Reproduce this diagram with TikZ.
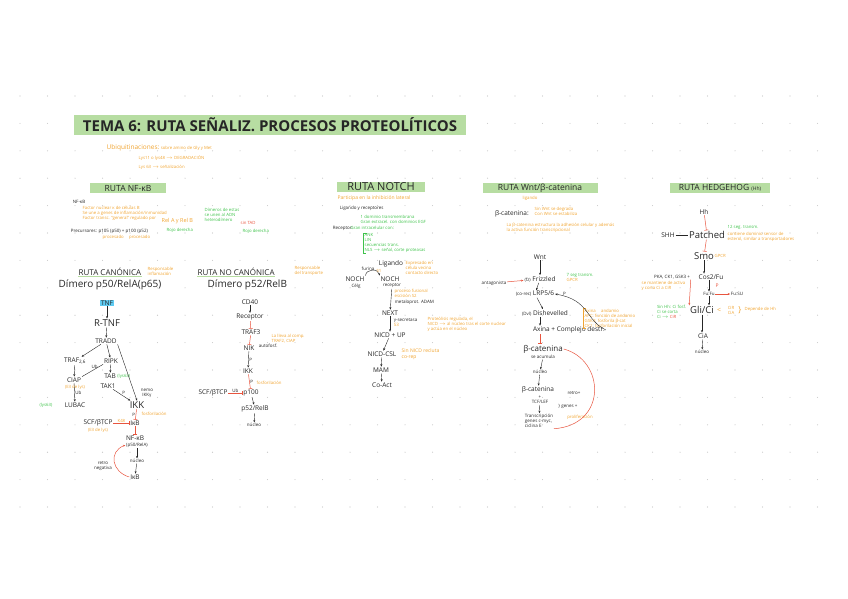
\documentclass[tikz,border=0pt]{standalone}
\usepackage{fontspec}
\setmainfont{Open Sans}
\usetikzlibrary{arrows.meta, positioning, calc}
\definecolor{hlgreen}{HTML}{B7DDA2}
\definecolor{orangenote}{HTML}{F0A431}
\definecolor{greennote}{HTML}{3EC24A}
\definecolor{inkred}{HTML}{E8553F}
\definecolor{hlcyan}{HTML}{5FCBF2}
\definecolor{dotgray}{HTML}{C4C4C4}
\definecolor{ink}{HTML}{262626}
\tikzset{
  title/.style={
    fill=hlgreen, minimum width=392, minimum height=19,
    font=\fontsize{15}{16}\selectfont\bfseries, text=ink,
  },
  heading/.style={
    fill=hlgreen, minimum height=10, inner sep=1pt,
    font=\fontsize{8.5}{9}\selectfont, text=ink,
  },
  subhead/.style={font=\fontsize{8}{9}\selectfont, text=ink, inner sep=0.5pt},
  dimero/.style={font=\fontsize{10}{11}\selectfont, text=ink, inner sep=0.5pt},
  lbl/.style={font=\fontsize{6.5}{7.5}\selectfont, text=ink, inner sep=0.8pt},
  lblbig/.style={font=\fontsize{9.5}{10}\selectfont, text=ink, inner sep=0.8pt},
  lblsm/.style={font=\fontsize{4.5}{5.2}\selectfont, text=ink, inner sep=0.6pt, align=left},
  note/.style={font=\fontsize{4.3}{5}\selectfont, text=orangenote, inner sep=0.5pt, align=left},
  gnote/.style={note, text=greennote},
  rnote/.style={note, text=inkred},
  arr/.style={-{Stealth[length=2.5pt, width=2pt]}, draw=ink, line width=0.4pt},
  plain/.style={draw=ink, line width=0.4pt},
  inh/.style={-{Bar[width=4pt]}, draw=inkred, line width=0.5pt},
  rarr/.style={-{Stealth[length=2.5pt, width=2pt]}, draw=inkred, line width=0.5pt},
  rline/.style={draw=inkred, line width=0.5pt},
}
\begin{document}
\begin{tikzpicture}[x=1pt, y=-1pt]
\useasboundingbox (0,0) rectangle (848,599);

% puntos de la libreta
\foreach \i in {0,...,29}
  \foreach \j in {0,...,15}
    \fill[dotgray] (20+27.5*\i, 96+27.4*\j) circle (0.55);

% titulo
\node[title] (tema) at (270,125) {TEMA 6: RUTA SEÑALIZ. PROCESOS PROTEOLÍTICOS};
\node[note, anchor=west] (ubiq) at (106,148) {{\fontsize{6.5}{7}\selectfont Ubiquitinaciones:} sobre amino de Gly y Met};
\node[note, anchor=west] (lysdeg) at (138,158) {Lys11 o lys48 $\rightarrow$ DEGRADACIÓN};
\node[note, anchor=west] (lyssig) at (138,167) {Lys 63 $\rightarrow$ señalización};

% ---------------- RUTA NF-kB ----------------
\node[heading, minimum width=76] (hnfkb) at (128,188) {RUTA NF-κB};
\node[lblsm, anchor=west] (nfkbdef) at (72,202) {NF-κB};
\node[note, anchor=north west] (nfkbnotes) at (82,206) {Factor nuclear κ de células B\\Se une a genes de inflamación/inmunidad\\Factor transc. ``general'' regulado por};
\node[note, anchor=west, font=\fontsize{5.5}{6}\selectfont] (relab) at (161,221) {Rel A y Rel B};
\node[gnote, anchor=north west] (dimer) at (204,208) {Dímeros de estas\\se unen al ADN\\heterodímero};
\node[rnote, anchor=west] (sintad) at (240,223) {sin TAD};
\node[lblsm, anchor=west] (precur) at (70,231) {Precursores: p105 (p50) + p100 (p52)};
\node[note, anchor=west] (precurnote) at (102,237) {procesado \quad procesado};
\node[gnote, anchor=west] (rojoa) at (166,230) {Rojo derecha};
\node[gnote, anchor=west] (rojob) at (242,231) {Rojo derecha};

% canonica
\node[subhead, anchor=west] (canon) at (78,272) {RUTA CANÓNICA};
\draw[hlgreen, line width=1.2pt] (canon.south west) -- (canon.south east);
\node[note, anchor=west] (canonnote) at (147,271) {Responsable\\inflamación};
\node[dimero, anchor=west] (dimcan) at (58,285) {Dímero p50/RelA(p65)};

\node[lbl, fill=hlcyan] (tnf) at (107,303) {TNF};
\node[lblbig] (rtnf) at (107,323) {R-TNF};
\node[lbl] (tradd) at (106,341) {TRADD};
\node[lbl] (traf) at (75,361) {TRAF\textsubscript{2,6}};
\node[lbl] (ripk) at (111,361) {RIPK};
\node[lbl] (ciap) at (74,380) {CIAP};
\node[note] (ciapnote) at (75,387) {(E3 de lys)};
\node[lbl] (tab) at (110,376) {TAB};
\node[gnote, anchor=west] (tabnote) at (tab.east) {(lys63)};
\node[lbl] (tak) at (108,386) {TAK1};
\node[lblsm, align=center] (nemo) at (147,393) {nemo\\IKKγ};
\node[lblbig] (ikk) at (137,405) {IKK};
\node[lbl] (lubac) at (75,405) {LUBAC};
\node[gnote] (lubacnote) at (46,405) {(lys63)};
\node[lbl] (ikb) at (135,423) {IκB};
\node[lbl] (scf) at (98,423) {SCF/βTCP};
\node[note] (scfnote) at (98,430) {(E3 de lys)};
\node[note, anchor=west] (ikkfosf) at (141,414) {fosforilación};
\node[lbl] (nfkb) at (135,438) {NF-κB};
\node[lblsm] (nfkbdim) at (137,445) {(p50/RelA)};
\node[lblsm] (nucleoa) at (137,461) {núcleo};
\node[lbl] (ikbb) at (135,477) {IκB};
\node[lblsm, align=center] (retro) at (103,466) {retro\\negativa};

\draw[arr] (tnf) -- (rtnf);
\draw[arr] (rtnf) -- (tradd);
\draw[arr] (tradd) -- (traf);
\draw[arr] (tradd) -- (ripk);
\draw[arr] (tradd.south east) -- (ikk.north);
\draw[arr] (traf) -- (ciap);
\draw[arr] (ripk) -- (tab);
\draw[plain] (ciap.north east) -- node[lblsm, above, pos=0.6] {Ub} (ripk.south west);
\draw[arr] (tak) -- node[lblsm, above right] {P} (ikk);
\draw[arr] (ciap) -- node[lblsm, right] {Ub} (lubac);
\draw[inh] (ikk) -- node[lblsm, left] {P} (ikb);
\draw[inh] (scf) -- node[note, above] {K48} (ikb);
\draw[inh] (ikb) -- (nfkb);
\draw[arr] (nfkbdim) -- (nucleoa);
\draw[arr] (nucleoa) -- (ikbb);
\draw[rarr] (ikbb.west) .. controls (112,472) and (108,452) .. (nfkbdim.west);

% no canonica
\node[subhead, anchor=west] (nocanon) at (197,272) {RUTA NO CANÓNICA};
\draw[hlgreen, line width=1.2pt] (nocanon.south west) -- (nocanon.south east);
\node[note, anchor=west] (nocanonnote) at (294,271) {Responsable\\del transporte};
\node[dimero, anchor=west] (dimnocan) at (207,285) {Dímero p52/RelB};

\node[lbl] (cd40) at (250,302) {CD40};
\node[lbl] (receptor) at (250,317) {Receptor};
\node[lbl] (traf3) at (251,332) {TRAF3};
\node[note, anchor=west] (traf3note) at (271,339) {La lleva al comp.\\TRAF2, CIAP};
\node[lbl] (nik) at (249,348) {NIK};
\node[lblsm, anchor=west] (nikauto) at (258,346) {autofosf.};
\node[lbl] (ikknc) at (248,371) {IKK};
\node[note, anchor=west] (ikkncnote) at (256,383) {fosforilación};
\node[lbl] (p100) at (251,393) {p100};
\node[lbl] (scfnc) at (213,393) {SCF/βTCP};
\node[lbl] (p52) at (255,409) {p52/RelB};
\node[lblsm] (nucleob) at (254,425) {núcleo};

\draw[arr] (cd40) -- (receptor);
\draw[inh] (receptor) -- (traf3);
\draw[inh] (traf3) -- (nik);
\draw[arr] (nik) -- node[lblsm, right] {P} (ikknc);
\draw[inh] (ikknc) -- node[lblsm, right] {P} (p100);
\draw[inh] (scfnc) -- node[lblsm, above] {Ub} (p100);
\draw[arr] (p100) -- (p52);
\draw[arr] (p52) -- (nucleob);

% ---------------- RUTA NOTCH ----------------
\node[heading, minimum width=88, font=\fontsize{11}{12}\selectfont] (hnotch) at (381,187) {RUTA NOTCH};
\node[note, anchor=west, font=\fontsize{5}{6}\selectfont] (notchinh) at (337,198) {Participa en la inhibición lateral};
\node[lblsm, anchor=west] (ligrec) at (339,208) {Ligando y receptores};
\node[gnote, anchor=west] (ligdom) at (360,219) {1 dominio transmembrana\\Gran extracel. con dominios EGF};
\node[lblsm, anchor=west] (recnotch) at (332,228) {Receptor:};
\node[gnote, anchor=west] (recintra) at (350,228) {Gran intracelular con:};
\node[gnote, anchor=north west] (recdom) at (364,233) {ANK\\LIN\\secuencias trans.\\NLS $\rightarrow$ señal, corte proteasas};
\draw[greennote, line width=0.4pt] ([xshift=3pt]recdom.north west) -| ([xshift=-1pt]recdom.south west) -- ++(3,0);

\node[lbl] (ligando) at (391,264) {Ligando};
\node[note, anchor=west] (ligandonote) at (405,268) {Expresado en\\célula vecina\\contacto directo};
\node[lblsm] (furina) at (368,269) {furina};
\node[lbl] (notchcel) at (355,279) {NOCH};
\node[lblsm] (notchcelsub) at (356,286) {Célg};
\node[lbl] (notchrec) at (390,279) {NOCH};
\node[lblsm] (notchrecsub) at (392,286) {receptor};
\draw[arr] (notchcel.north east) .. controls (366,269) and (378,268) .. node[note, right, pos=0.7] {S1} (notchrec.north west);

\node[note, anchor=north west] (adamnote) at (394,289) {proceso fusional\\escisión S2};
\node[lblsm, anchor=west] (adam) at (394,302) {metaloprot. ADAM};
\node[lbl] (next) at (390,313) {NEXT};
\node[lblsm, anchor=north west] (gsec) at (393,318) {γ-secretasa\\{\color{orangenote}S3}};
\node[note, anchor=north west] (proteonote) at (427,317) {Proteólisis regulada, el\\NICD $\rightarrow$ al núcleo tras el corte nuclear\\y actúa en el núcleo};
\node[lbl] (nicdup) at (390,335) {NICD + UP};
\node[lbl] (nicdcsl) at (382,354) {NICD-CSL};
\node[note, anchor=west, font=\fontsize{5}{5.5}\selectfont] (cslnote) at (401,354) {Sin NICD recluta\\co-rep};
\node[lbl] (mam) at (381,370) {MAM};
\node[lbl] (coact) at (382,385) {Co-Act};

\draw[arr] (notchrecsub) -- (next);
\draw[arr] (next) -- (nicdup);
\draw[arr] (nicdup) -- (nicdcsl);
\draw[arr] (nicdcsl) -- (mam);
\draw[arr] (mam) -- (coact);

% ---------------- RUTA Wnt ----------------
\node[heading, minimum width=115] (hwnt) at (540,188) {RUTA Wnt/β-catenina};
\node[note] (ligwnt) at (530,198) {ligando};
\node[lbl, anchor=west] (bcat) at (494,214) {β-catenina:};
\node[note, anchor=west] (bcatnote) at (534,211) {Sin Wnt se degrada\\Con Wnt se estabiliza};
\node[note, anchor=west] (bcatfunc) at (506,228) {La β-catenina estructura la adhesión celular y además\\la activa función transcripcional};

\node[lbl] (wnt) at (540,257) {Wnt};
\node[lbl] (frizzled) at (540,279) {{\fontsize{4.5}{5}\selectfont(fz)} Frizzled};
\node[gnote, anchor=west] (fzgpcr) at (566,277) {7 seg transm.\\{\color{orangenote}GPCR}};
\node[lblsm] (antag) at (494,283) {antagonista};
\node[lbl] (lrp) at (535,294) {{\fontsize{4.5}{5}\selectfont(co-rec)} LRP5/6};
\node[lbl] (dvl) at (545,313) {{\fontsize{4.5}{5}\selectfont(Dvl)} Dishevelled};
\node[lbl, anchor=west] (axina) at (532,330) {Axina + Complejo destr.};
\node[note, anchor=west] (axinanote) at (584,318) {Axina \quad andamio\\APC: función de andamio\\GSK3: fosforila β-cat\\CK1: fosforilación inicial};
\draw[orangenote, line width=0.4pt] ([xshift=2pt]axinanote.north west) -| ([xshift=-1pt]axinanote.south west) -- ++(3,0);
\node[lbl, font=\fontsize{8}{9}\selectfont] (bcatb) at (543,349) {β-catenina};
\node[lblsm] (acumula) at (543,357) {se acumula};
\node[lblsm] (nucleoc) at (540,372) {núcleo};
\node[lbl] (bcatc) at (538,390) {β-catenina};
\node[lblsm, align=center] (tcf) at (540,400) {+\\TCF/LEF};
\node[lblsm, align=left] (transc) at (539,421) {Transcripción\\genes c-myc,\\ciclina E};
\node[lblsm] (retrownt) at (574,393) {retro+};
\node[lblsm] (cmyc) at (568,406) {\} genes +};
\node[note] (prolif) at (580,417) {proliferación};

\draw[arr] (wnt) -- (frizzled);
\draw[rarr] (antag) -- (frizzled);
\draw[arr] (frizzled) -- (lrp);
\draw[arr] (lrp) -- (dvl);
\draw[arr] (dvl.south -| wnt) -- (axina.north -| wnt);
\draw[arr] (axina.east) .. controls (585,320) and (590,300) .. node[lblsm, above, pos=0.9] {P} (lrp.east);
\draw[inh] (axina.south -| wnt) -- (bcatb.north -| wnt);
\draw[arr] (acumula) -- (nucleoc);
\draw[arr] (nucleoc) -- (bcatc);
\draw[arr] (tcf) -- (transc);
\draw[rline] (bcatb.east) .. controls (605,360) and (608,425) .. (transc.south east);

% ---------------- RUTA HEDGEHOG ----------------
\node[heading, minimum width=100] (hhh) at (720,188) {RUTA HEDGEHOG {\fontsize{5}{6}\selectfont(Hh)}};
\node[lbl] (hh) at (704,212) {Hh};
\node[lblbig] (patched) at (707,235) {Patched};
\node[lbl] (shh) at (668,235) {SHH};
\node[gnote, anchor=west] (ptcnote) at (727,227) {12 seg. transm.};
\node[note, anchor=west] (ptcnoteb) at (727,237) {contiene dominio sensor de\\esterol, similar a transportadores};
\node[lblbig] (smo) at (704,256) {Smo};
\node[note, anchor=west] (smonote) at (714,256) {GPCR};
\node[lblsm] (pka) at (672,277) {PKA, CK1, GSK3 +};
\node[lbl] (cos2) at (711,277) {Cos2/Fu};
\node[note, anchor=north west] (pkanote) at (641,281) {se mantiene de activa\\y corta Ci a CiR};
\node[lblsm] (fufu) at (709,294) {Fu:Fu};
\node[rnote, font=\fontsize{5}{6}\selectfont] (fup) at (717,286) {P};
\node[lblsm] (fusu) at (737,294) {Fu:SU};
\node[lblbig] (gli) at (702,310) {Gli/Ci};
\node[note, font=\fontsize{7}{8}\selectfont] (menor) at (719,310) {<};
\node[note, align=center] (cirna) at (731,310) {CiR\\CiA};
\node[note, font=\fontsize{8}{9}\selectfont] (llave) at (740,310) {\}};
\node[note, anchor=west] (dependehh) at (744,309) {Depende de Hh};
\node[gnote, anchor=east] (glinote) at (687,312) {Sin Hh: Ci fosf.\\Ci se corta\\Ci $\rightarrow$ {\color{inkred}CiR}};
\node[lbl] (cia) at (703,336) {CiA};
\node[lblsm] (nucleod) at (702,352) {núcleo};

\draw[inh] (hh) -- (patched);
\draw[plain] (shh) -- (patched);
\draw[inh] (patched) -- (smo);
\draw[arr] (smo) -- (smo |- cos2.north);
\draw[arr] (cos2.south -| fufu) -- (fufu);
\draw[rarr] (fufu) -- (fusu);
\draw[rarr] (pka.south east) -- (gli.north west);
\draw[arr] (fufu) -- (fufu |- gli.north);
\draw[arr] (gli) -- (gli |- cia.north);
\draw[arr] (cia) -- (nucleod);

\end{tikzpicture}
\end{document}
